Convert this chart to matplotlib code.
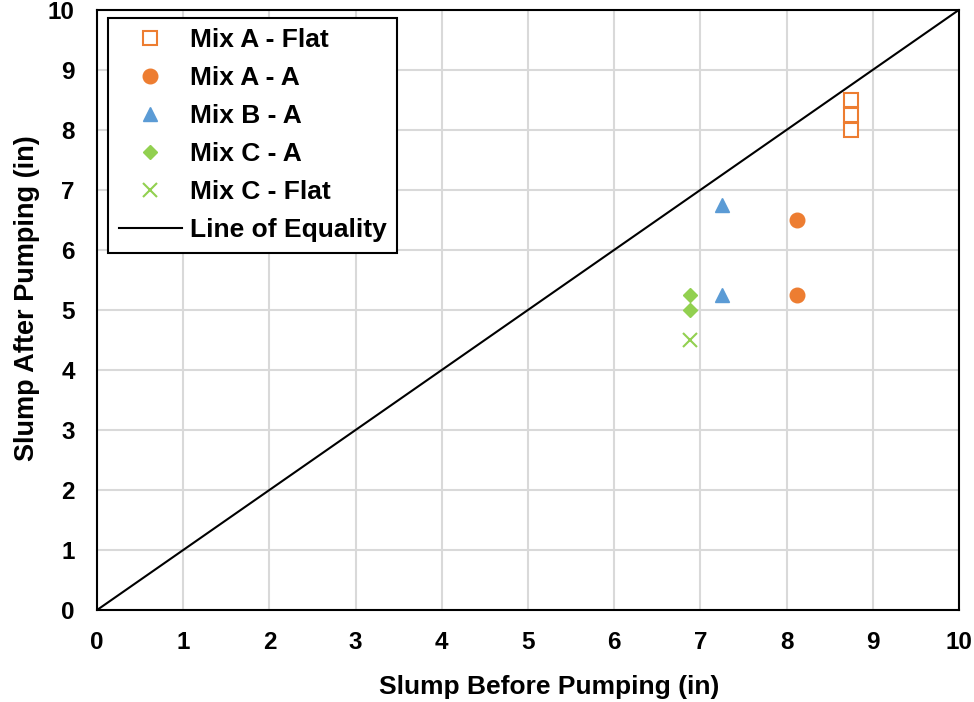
import matplotlib
matplotlib.use("Agg")
import matplotlib.pyplot as plt

# slump before / after pumping (in)
mixA_flat_x = [8.75, 8.75, 8.75]
mixA_flat_y = [8.5, 8.25, 8.0]
mixA_a_x = [8.125, 8.125]
mixA_a_y = [6.5, 5.25]
mixB_a_x = [7.25, 7.25]
mixB_a_y = [6.75, 5.25]
mixC_a_x = [6.875, 6.875]
mixC_a_y = [5.25, 5.0]
mixC_flat_x = [6.875]
mixC_flat_y = [4.5]
equality = [0, 10]

orange = "#ED7D31"
blue = "#5B9BD5"
green = "#92D050"

plt.rcParams['font.family'] = ['Liberation Sans', 'DejaVu Sans']
plt.rcParams['font.weight'] = 'bold'

fig = plt.figure(figsize=(9.74, 7.02), dpi=100)
ax = fig.add_axes([0.0996, 0.131, 0.885, 0.855])

ax.plot(mixA_flat_x, mixA_flat_y, 's', ms=10, mfc='white', mec=orange, mew=1.5,
        ls='none', label='Mix A - Flat', zorder=3)
ax.plot(mixA_a_x, mixA_a_y, 'o', ms=10.5, color=orange, ls='none',
        label='Mix A - A', zorder=3)
ax.plot(mixB_a_x, mixB_a_y, '^', ms=10.5, color=blue, ls='none',
        label='Mix B - A', zorder=3)
ax.plot(mixC_a_x, mixC_a_y, 'D', ms=7.5, color=green, ls='none',
        label='Mix C - A', zorder=3)
ax.plot(mixC_flat_x, mixC_flat_y, 'x', ms=10, color=green, mew=1.5, ls='none',
        label='Mix C - Flat', zorder=3)
ax.plot(equality, equality, color='black', lw=1.5, label='Line of Equality', zorder=2)

ax.set_xlim(0, 10)
ax.set_ylim(0, 10)
ax.set_xticks(range(11))
ax.set_yticks(range(11))
ax.grid(True, color='#D9D9D9', lw=1.5)
ax.set_axisbelow(True)
for s in ax.spines.values():
    s.set_color('black')
    s.set_linewidth(1.5)
ax.tick_params(length=0, labelsize=17.5)
ax.tick_params(axis='x', pad=15)
ax.tick_params(axis='y', pad=16)

ax.set_xlabel('Slump Before Pumping (in)', fontsize=19, fontweight='bold')
ax.set_ylabel('Slump After Pumping (in)', fontsize=19.5, fontweight='bold')
ax.xaxis.set_label_coords(0.525, -0.108)
ax.yaxis.set_label_coords(-0.066, 0.52)

leg = ax.legend(loc='upper left', fontsize=19, frameon=True, fancybox=False,
                edgecolor='black', framealpha=1, borderpad=0.4, labelspacing=0.53,
                handlelength=2.4, handletextpad=0.3, bbox_to_anchor=(0.013, 0.987),
                borderaxespad=0)
leg.get_frame().set_linewidth(1.5)

fig.savefig('out.png', dpi=100)
